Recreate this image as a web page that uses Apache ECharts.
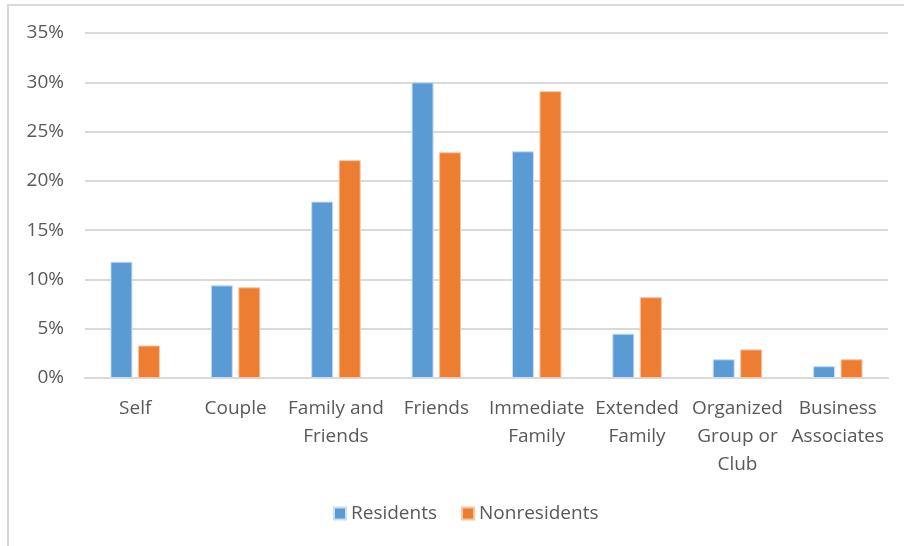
<!DOCTYPE html>
<html>
<head>
<meta charset="utf-8">
<title>Residents vs Nonresidents</title>
<script src="https://cdn.jsdelivr.net/npm/echarts@6/dist/echarts.min.js"></script>
<style>
  html, body { margin: 0; padding: 0; background: #fff; }
  #wrap { position: relative; width: 904px; height: 546px; overflow: hidden; }
  #frame {
    position: absolute; left: 7px; top: 4px; width: 910px; height: 560px;
    border-left: 2px solid #d9d9d9; border-top: 2px solid #d9d9d9;
    box-sizing: border-box;
  }
  #chart { position: absolute; left: 0; top: 0; width: 904px; height: 546px; }
</style>
</head>
<body>
<div id="wrap">
  <div id="frame"></div>
  <div id="chart"></div>
</div>
<script>
// categories on the x axis
var categories = [
  "Self", "Couple", "Family and\nFriends", "Friends", "Immediate\nFamily",
  "Extended\nFamily", "Organized\nGroup or\nClub", "Business\nAssociates"
];
// share of each group (percent)
var residents = [11.8, 9.4, 17.9, 30.0, 23.0, 4.5, 1.9, 1.2];
var nonresidents = [3.3, 9.2, 22.1, 22.9, 29.1, 8.2, 2.9, 1.9];
var seriesNames = ["Residents", "Nonresidents"];

var fontFam = "'Open Sans', 'Liberation Sans', sans-serif";
var chart = echarts.init(document.getElementById("chart"));

chart.setOption({
  animation: false,
  textStyle: { fontFamily: fontFam },
  grid: { left: 85, right: 16, top: 33, bottom: 168, containLabel: false },
  legend: {
    data: seriesNames,
    bottom: 18,
    left: 328,
    itemWidth: 12,
    itemHeight: 12,
    itemGap: 24,
    icon: "rect",
    textStyle: { color: "#595959", fontSize: 19, fontFamily: fontFam }
  },
  xAxis: {
    type: "category",
    data: categories,
    axisLine: { show: true, lineStyle: { color: "#d9d9d9", width: 2 } },
    axisTick: { show: false },
    axisLabel: {
      color: "#595959",
      fontSize: 19,
      lineHeight: 28,
      margin: 17,
      interval: 0,
      fontFamily: fontFam
    }
  },
  yAxis: {
    type: "value",
    min: 0,
    max: 35,
    interval: 5,
    axisLine: { show: false },
    axisTick: { show: false },
    axisLabel: {
      color: "#595959",
      fontSize: 19,
      margin: 21,
      formatter: "{value}%",
      fontFamily: fontFam
    },
    splitLine: { lineStyle: { color: "#d9d9d9", width: 2 } }
  },
  series: [
    {
      name: seriesNames[0],
      type: "bar",
      data: residents,
      barWidth: 22,
      barGap: "25%",
      itemStyle: { color: "#5b9bd5", borderColor: "#c9def2", borderWidth: 1 }
    },
    {
      name: seriesNames[1],
      type: "bar",
      data: nonresidents,
      barWidth: 22,
      itemStyle: { color: "#ed7d31", borderColor: "#f6c5a3", borderWidth: 1 }
    }
  ]
});
</script>
</body>
</html>
